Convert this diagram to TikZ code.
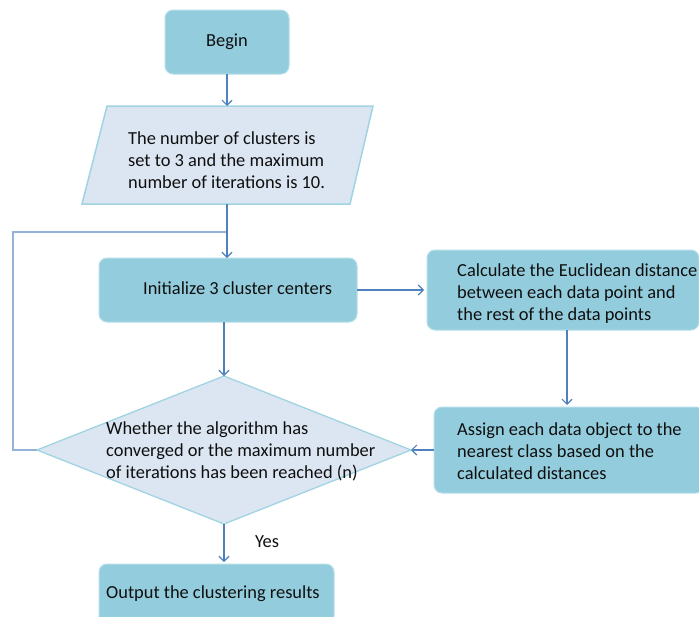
\documentclass[tikz,border=0pt]{standalone}
\usepackage{fontspec}
\setmainfont{Carlito}
\usetikzlibrary{arrows.meta,shapes.geometric}
\definecolor{boxfill}{RGB}{147,205,221}
\definecolor{boxline}{RGB}{182,223,234}
\definecolor{palefill}{RGB}{220,230,242}
\definecolor{paleline}{RGB}{160,212,226}
\definecolor{arrowc}{RGB}{79,129,189}
\definecolor{loopc}{RGB}{149,179,215}
\definecolor{txtc}{RGB}{15,15,15}
\begin{document}
\begin{tikzpicture}[x=1pt,y=-1pt,
  box/.style={draw=boxline, fill=boxfill, line width=1pt, rounded corners=8pt, inner sep=0pt, outer sep=0pt},
  txt/.style={font=\fontsize{18.4}{22}\selectfont, inner sep=0pt, align=left, anchor=west, text=txtc},
  arr/.style={draw=arrowc, line width=1.1pt, -{Straight Barb[length=5pt,width=10pt]}},
  loopline/.style={draw=loopc, line width=1.1pt},
]
\clip (0,0) rectangle (699,616);
\fill[white] (0,0) rectangle (699,616);

% boxes
\node[box, minimum width=124pt, minimum height=64pt, font=\fontsize{18.4}{22}\selectfont, text=txtc] (begin) at (227,42) {Begin};
\node[box, minimum width=258pt, minimum height=64pt] (init) at (228,290) {};
\node[box, minimum width=272pt, minimum height=80pt] (calc) at (563,290) {};
\node[box, minimum width=270pt, minimum height=86pt] (assign) at (569,450) {};
\node[box, minimum width=235pt, minimum height=60pt] (out) at (216.5,594) {};

% parallelogram
\path[draw=paleline, fill=palefill, line width=1.5pt]
  (107,106) -- (373,106) -- (350,204) -- (82,204) -- cycle;
\coordinate (ptop) at (227,106);
\coordinate (pbot) at (227,204);

% decision
\node[diamond, draw=paleline, fill=palefill, line width=1.3pt, minimum width=374pt, minimum height=148pt, inner sep=0pt, outer sep=0pt] (dec) at (224,450) {};

% texts
\node[txt] (tparam) at (128,160) {The number of clusters is\\set to 3 and the maximum\\number of iterations is 10.};
\node[txt] (tinit) at (143,288) {Initialize 3 cluster centers};
\node[txt] (tcalc) at (457,294) {Calculate the Euclidean distance\\between each data point and\\the rest of the data points};
\node[txt] (tassign) at (457,451) {Assign each data object to the\\nearest class based on the\\calculated distances};
\node[txt] (tdec) at (106,451) {Whether the algorithm has\\converged or the maximum number\\of iterations has been reached (n)};
\node[txt] (tout) at (106,594) {Output the clustering results};
\node[txt, anchor=center] (yes) at (267,542) {Yes};

% connectors
\coordinate (join) at (227,232);
\coordinate (lc) at (13,232);
\draw[loopline] (dec.west) -| (lc) -- (join);
\draw[arr] (begin.south) -- (ptop);
\draw[arr] (pbot) -- (pbot |- init.north);
\draw[arr] (init.south -| dec.north) -- (dec.north);
\draw[arr, shorten >=3pt] (init.east) -- (init.east -| calc.west);
\draw[arr, shorten >=2pt] ([xshift=4pt]calc.south) -- ([xshift=4pt]calc.south |- assign.north);
\draw[arr] (assign.west) -- (dec.east);
\draw[arr, shorten >=2pt] (dec.south) -- (dec.south |- out.north);
\end{tikzpicture}
\end{document}
